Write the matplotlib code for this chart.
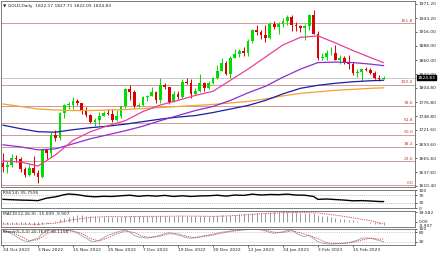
import numpy as np
import matplotlib
matplotlib.use("Agg")
import matplotlib.pyplot as plt

plt.rcParams['font.family'] = ['DejaVu Sans']

# Daily candles, 24 Oct 2022 .. 24 Feb 2023
opens = [1656, 1649, 1652, 1665, 1663, 1645, 1633, 1647, 1636, 1629,
         1681, 1676, 1712, 1706, 1755, 1771, 1771, 1778, 1774, 1761,
         1751, 1738, 1741, 1750, 1755, 1754, 1741, 1749, 1768, 1803,
         1797, 1769, 1771, 1786, 1789, 1797, 1781, 1810, 1807, 1777,
         1792, 1787, 1817, 1814, 1792, 1798, 1814, 1804, 1815, 1824,
         1839, 1855, 1833, 1865, 1872, 1877, 1875, 1897, 1920, 1916,
         1909, 1904, 1932, 1926, 1931, 1937, 1946, 1930, 1928, 1923,
         1928, 1950, 1912, 1865, 1867, 1874, 1875, 1861, 1865, 1854,
         1853, 1835, 1836, 1842, 1841, 1835, 1825, 1822.17]
highs = [1675, 1659, 1674, 1671, 1667, 1649, 1656, 1669, 1642, 1683,
         1684, 1717, 1722, 1757, 1772, 1776, 1786, 1783, 1774, 1766,
         1753, 1746, 1758, 1760, 1763, 1764, 1762, 1769, 1804, 1810,
         1800, 1774, 1788, 1791, 1807, 1798, 1824, 1814, 1807, 1799,
         1799, 1822, 1824, 1823, 1804, 1833, 1816, 1819, 1826, 1851,
         1865, 1858, 1869, 1881, 1881, 1886, 1901, 1922, 1930, 1920,
         1929, 1935, 1937, 1935, 1943, 1949, 1949, 1936, 1930, 1931,
         1952, 1959, 1918, 1874, 1880, 1885, 1890, 1870, 1868, 1870,
         1856, 1842, 1842, 1847, 1845, 1839, 1831, 1827.71]
lows = [1638, 1637, 1648, 1657, 1639, 1628, 1631, 1633, 1616, 1627,
        1664, 1667, 1700, 1702, 1745, 1763, 1764, 1770, 1754, 1748,
        1735, 1730, 1731, 1749, 1752, 1738, 1740, 1745, 1765, 1780,
        1765, 1766, 1768, 1779, 1788, 1775, 1775, 1802, 1773, 1776,
        1783, 1785, 1812, 1784, 1790, 1797, 1798, 1802, 1812, 1823,
        1838, 1830, 1825, 1864, 1866, 1868, 1868, 1893, 1910, 1901,
        1896, 1902, 1922, 1911, 1925, 1929, 1917, 1918, 1916, 1900,
        1920, 1911, 1861, 1860, 1860, 1871, 1860, 1853, 1852, 1843,
        1830, 1827, 1819, 1838, 1832, 1822, 1818, 1822.05]
closes = [1649, 1652, 1665, 1663, 1645, 1633, 1647, 1636, 1629, 1681,
          1676, 1712, 1706, 1755, 1771, 1772, 1778, 1774, 1761, 1751,
          1738, 1741, 1750, 1755, 1754, 1741, 1749, 1768, 1803, 1797,
          1769, 1771, 1786, 1789, 1797, 1781, 1810, 1807, 1777, 1792,
          1787, 1817, 1814, 1792, 1798, 1814, 1804, 1815, 1824, 1839,
          1855, 1833, 1865, 1872, 1877, 1875, 1897, 1920, 1916, 1909,
          1904, 1932, 1926, 1931, 1937, 1946, 1930, 1928, 1923, 1928,
          1950, 1912, 1865, 1867, 1874, 1875, 1861, 1865, 1854, 1853,
          1835, 1836, 1842, 1841, 1835, 1825, 1822, 1824.83]

# moving averages, read every 4 bars
ma_idx = [0, 4, 8, 12, 16, 20, 24, 28, 32, 36, 40, 44, 48, 52, 56, 60,
          64, 68, 72, 76, 80, 84, 87]
ma_pink = [1660, 1658, 1650, 1672, 1701, 1718, 1730, 1740, 1758, 1771, 1780,
           1790, 1798, 1820, 1842, 1866, 1890, 1905, 1908, 1894, 1879, 1865, 1855]
ma_purple = [1692, 1688, 1682, 1684, 1694, 1704, 1712, 1720, 1729, 1740, 1750,
             1760, 1768, 1780, 1795, 1808, 1826, 1842, 1855, 1856, 1855, 1852, 1849]
ma_blue = [1731, 1724, 1718, 1717, 1722, 1726, 1729, 1733, 1738, 1743, 1747,
           1750, 1756, 1763, 1770, 1780, 1793, 1804, 1810, 1814, 1817, 1819, 1820]
ma_orange = [1773, 1768, 1763, 1761, 1760, 1760, 1761, 1762, 1764, 1766, 1768,
             1770, 1772, 1775, 1778, 1783, 1789, 1794, 1797, 1800, 1802, 1804, 1805]

fib_levels = ['0.0', '23.6', '38.2', '50.0', '61.8', '78.6', '100.0', '161.8']
fib_prices = [1612, 1659, 1688, 1712, 1736, 1769, 1811, 1933]

price_ticks = [1610.40, 1637.60, 1665.60, 1693.60, 1721.60, 1748.80, 1776.80,
               1804.80, 1832.00, 1860.00, 1888.00, 1916.00, 1943.20, 1971.20]

date_idx = [0, 8, 16, 24, 32, 40, 48, 56, 64, 72, 80]
date_labels = ['24 Oct 2022', '3 Nov 2022', '15 Nov 2022', '25 Nov 2022',
               '7 Dec 2022', '19 Dec 2022', '30 Dec 2022', '12 Jan 2023',
               '24 Jan 2023', '3 Feb 2023', '15 Feb 2023']

rsi_idx = [0, 2, 4, 6, 8, 10, 12, 14, 15, 17, 19, 21, 23, 25, 27, 29, 31, 33,
           35, 37, 39, 41, 43, 45, 47, 49, 51, 53, 55, 57, 59, 61, 63, 65, 67,
           69, 71, 72, 74, 76, 78, 80, 82, 84, 86, 87]
rsi_vals = [48, 46, 44, 43, 41, 55, 62, 74, 78, 74, 66, 62, 65, 64, 68, 71, 65,
            69, 66, 70, 64, 68, 64, 67, 68, 71, 66, 72, 70, 77, 72, 75, 74, 77,
            72, 71, 64, 48, 50, 47, 44, 40, 41, 39, 36, 35.76]

macd_main = [-11, -11, -10, -9, -10, -11, -11, -12, -13, -8, -5, 0, 3, 10, 16,
             20, 24, 26, 26, 25, 23, 22, 21, 21, 20, 19, 18, 19, 22, 24, 23,
             22, 22, 22, 23, 22, 24, 25, 23, 23, 22, 23, 24, 23, 22, 22, 22,
             22, 23, 24, 26, 25, 27, 29, 30, 31, 33, 35, 36, 37, 37, 38, 38,
             38, 39, 39.6, 39, 38, 37, 36, 37, 35, 29, 25, 22, 19, 16, 13, 10,
             8, 5, 2, 0, -2, -5, -8, -11, -15]
macd_sig = [-10, -10, -11, -6, 8, 18, 21, 20, 22, 22, 23, 23, 22, 24, 29, 34,
            37, 38, 36, 27, 16, 4, -9.9]

stoch_main = [94, 83, 70, 55, 35, 25, 21, 35, 42, 73, 90, 96, 98, 97, 94, 90,
              85, 75, 58, 42, 25, 21, 30, 45, 62, 70, 80, 88, 94, 80, 60, 50,
              48, 42, 50, 55, 62, 72, 77, 72, 62, 55, 45, 42, 48, 52, 58, 62,
              68, 73, 80, 83, 88, 92, 94, 96, 98, 100, 98, 95, 88, 78, 73, 78,
              83, 90, 94, 75, 60, 52, 62, 40, 21, 12, 8, 6, 8, 10, 12, 15, 21,
              30, 42, 44, 42, 35, 28, 20.76]
sig_idx = [0, 2, 4, 6, 8, 10, 12, 14, 16, 18, 20, 22, 24, 26, 28, 30, 32, 34,
           36, 38, 40, 42, 44, 46, 48, 50, 52, 54, 56, 58, 60, 62, 64, 66, 68,
           70, 72, 74, 76, 78, 80, 82, 84, 86, 87]
stoch_sig = [85, 82, 55, 27, 33, 70, 95, 96, 88, 72, 40, 25, 45, 70, 87, 78,
             53, 47, 56, 70, 70, 54, 45, 53, 62, 74, 84, 91, 96, 98, 94, 80,
             78, 89, 76, 58, 40, 14, 8, 10, 16, 31, 43, 36, 38.12]

W, H = 440, 254
fig = plt.figure(figsize=(4.4, 2.54), dpi=100)


def px_axes(x0, y0, x1, y1):
    return fig.add_axes([x0 / W, 1 - y1 / H, (x1 - x0) / W, (y1 - y0) / H])


FS = 3.2
SPINE = '#666666'
XL = (-0.46, 94.2)
n = len(closes)
x = np.arange(n)


def style(ax):
    ax.set_xlim(*XL)
    ax.set_xticks([])
    for s in ax.spines.values():
        s.set_color(SPINE)
        s.set_linewidth(0.6)
    ax.yaxis.tick_right()
    ax.tick_params(axis='y', length=1.5, width=0.5, pad=1, labelsize=FS,
                   colors='#222222', direction='out')


# main price panel
ax = px_axes(1, 1, 415, 187)
style(ax)
ax.set_ylim(1608.4, 1977.1)
ax.set_yticks(price_ticks)
ax.set_yticklabels(['%.2f' % p for p in price_ticks])

for lvl, p in zip(fib_levels, fib_prices):
    ax.axhline(p, color='#c88888', lw=0.6, zorder=1)
    ax.text(93.8, p + 1, lvl, color='#c04040', fontsize=FS, ha='right',
            va='bottom', zorder=2)

ax.axhline(closes[-1], color='#c0c0c0', lw=0.6, zorder=1)

o = np.array(opens); c = np.array(closes)
cols = np.where(c >= o, '#00dd00', '#dd0000')
ax.vlines(x, lows, highs, colors=cols, lw=0.7, zorder=3)
ax.bar(x, np.maximum(np.abs(c - o), 0.8), bottom=np.minimum(o, c), width=0.62,
       color=cols, lw=0, zorder=4)

ax.plot(ma_idx, ma_orange, color='#f5a030', lw=0.9, zorder=5)
ax.plot(ma_idx, ma_blue, color='#1c1ca8', lw=0.9, zorder=5)
ax.plot(ma_idx, ma_purple, color='#8a2fd0', lw=0.9, zorder=5)
ax.plot(ma_idx, ma_pink, color='#e8409a', lw=0.9, zorder=5)

# current price box on the axis
ax.text(1.006, closes[-1], '%.2f' % closes[-1], transform=ax.get_yaxis_transform(),
        fontsize=FS, color='white', va='center', ha='left',
        bbox=dict(boxstyle='square,pad=0.12', fc='black', ec='black'),
        clip_on=False, zorder=10)
ax.text(0.006, 0.985, '\u25BC GOLD,Daily  1822.17 1827.71 1822.05 1824.83',
        transform=ax.transAxes, fontsize=FS, color='#222222', va='top')

# RSI
ax_r = px_axes(1, 190, 415, 208)
style(ax_r)
ax_r.set_ylim(0, 100)
ax_r.set_yticks([100, 70, 30, 0])
for lv in (70, 30):
    ax_r.axhline(lv, color='#aaaaaa', lw=0.5, ls=(0, (1.5, 1.5)))
ax_r.plot(rsi_idx, rsi_vals, color='black', lw=1.0)
ax_r.text(0.006, 0.93, 'RSI(14) 35.7595', transform=ax_r.transAxes,
          fontsize=FS, color='#222222', va='top')

# MACD
ax_m = px_axes(1, 211, 415, 227)
style(ax_m)
ax_m.set_ylim(-22, 44)
ax_m.set_yticks([39.582, 0])
ax_m.set_yticklabels(['39.582', '0.00'])
ax_m.text(1.01, -17, '-9.907', transform=ax_m.get_yaxis_transform(),
          fontsize=FS, color='#222222', va='center', ha='left', clip_on=False)
ax_m.vlines(x, 0, macd_main, colors='#888888', lw=0.6)
ax_m.plot(ma_idx, macd_sig, color='#e03a3a', lw=0.6, ls=(0, (1.5, 1.2)))
ax_m.text(0.006, 0.93, 'MACD(12,26,9) -15.009 -9.907', transform=ax_m.transAxes,
          fontsize=FS, color='#222222', va='top')

# Stochastic
ax_s = px_axes(1, 229, 415, 245)
style(ax_s)
ax_s.set_ylim(0, 100)
ax_s.set_yticks([100, 80, 20])
for lv in (80, 20):
    ax_s.axhline(lv, color='#bbbbbb', lw=0.5, ls=(0, (1.5, 1.5)))
ax_s.plot(x, stoch_main, color='#9aa8a8', lw=0.6)
ax_s.plot(sig_idx, stoch_sig, color='#e03a3a', lw=0.6, ls=(0, (1.5, 1.2)))
ax_s.text(0.006, 0.93, 'Stoch(5,3,3) 20.7637 38.1156', transform=ax_s.transAxes,
          fontsize=FS, color='#222222', va='top')

ax_s.set_xticks(date_idx)
ax_s.set_xticklabels(date_labels, ha='left')
ax_s.tick_params(axis='x', length=1.5, width=0.5, pad=0.8, labelsize=FS,
                 colors='#222222')

fig.savefig('out.png', dpi=100, facecolor='white')
